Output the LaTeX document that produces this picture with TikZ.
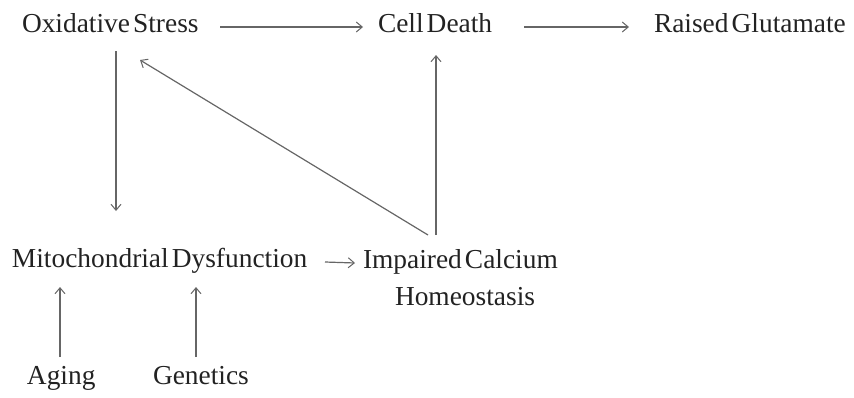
\documentclass[tikz,border=0pt]{standalone}
\usepackage{fontspec}
\setmainfont[WordSpace=0.45]{Liberation Serif}
\usetikzlibrary{arrows.meta,calc}
\definecolor{txt}{HTML}{222222}
\definecolor{ln}{HTML}{666666}
\tikzset{
  lbl/.style={inner sep=0pt, outer sep=0pt, anchor=base west, text=txt, font=\fontsize{27.4}{32}\selectfont},
  arr/.style={draw=ln, line width=1.2pt, -{Straight Barb[length=6pt,width=10pt,line width=1pt]}}
}
\begin{document}
\begin{tikzpicture}[x=1pt,y=-1pt]
\useasboundingbox (0,0) rectangle (854,397);
\node[lbl] (os) at (22,32) {Oxidative Stress};
\node[lbl] (cd) at (378,32) {Cell Death};
\node[lbl] (rg) at (654,32) {Raised Glutamate};
\node[lbl] (md) at (12,267) {Mitochondrial Dysfunction};
\node[lbl] (ic) at (363,268) {Impaired Calcium};
\node[lbl] (ho) at (395,305) {Homeostasis};
\node[lbl] (ag) at (27,384) {Aging};
\node[lbl] (ge) at (153,384) {Genetics};

\draw[arr] ($(os.base west)+(198,-5)$) -- ($(cd.base west)+(-15,-5)$);
\draw[arr] ($(cd.base west)+(146,-5)$) -- ($(rg.base west)+(-25,-5)$);
\draw[arr] ($(os.base west)+(94,19)$) -- ($(md.base west)+(104,-56)$);
\draw[arr] ($(ic.base west)+(65,-33)$) -- ($(os.base west)+(118,28)$);
\draw[arr] ($(ic.base west)+(73,-33)$) -- ($(cd.base west)+(58,23)$);
\draw[arr] ($(md.base west)+(313,-5)$) -- ($(ic.base west)+(-8,-5)$);
\draw[arr] ($(ag.base west)+(33,-27)$) -- ($(md.base west)+(48,20)$);
\draw[arr] ($(ge.base west)+(43,-27)$) -- ($(md.base west)+(184,20)$);
\end{tikzpicture}
\end{document}
